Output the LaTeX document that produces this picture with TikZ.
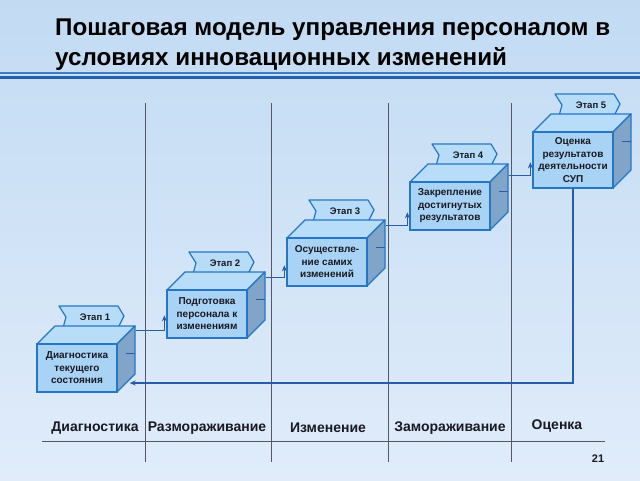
\documentclass[tikz,border=0pt]{standalone}
\usepackage{fontspec}
\setmainfont{Liberation Sans}
\usetikzlibrary{calc,arrows.meta}
\definecolor{bgtop}{RGB}{194,219,243}
\definecolor{bgbot}{RGB}{224,236,250}
\definecolor{edgec}{RGB}{38,118,200}
\definecolor{frontc}{RGB}{168,211,245}
\definecolor{topc}{RGB}{184,221,248}
\definecolor{sidec}{RGB}{128,165,200}
\definecolor{tagc}{RGB}{182,220,248}
\definecolor{connc}{RGB}{40,92,168}
\definecolor{divc}{RGB}{85,88,100}
\definecolor{rulethin}{RGB}{60,125,195}
\definecolor{rulethick}{RGB}{35,95,170}
\definecolor{txtc}{RGB}{25,25,35}
\tikzset{
  tagshape/.style={draw=edgec, line width=1.2pt, fill=tagc, line join=round},
  tagtext/.style={font=\fontsize{9.5}{10}\selectfont\bfseries, text=txtc, inner sep=0pt},
  cubetop/.style={draw=edgec, line width=1.3pt, fill=topc, line join=round},
  cubeside/.style={draw=edgec, line width=1.3pt, fill=sidec, line join=round},
  cubefront/.style={draw=edgec, line width=1.3pt, fill=frontc, minimum width=80pt, inner sep=0pt,
     align=center, font=\fontsize{10}{12.5}\selectfont\bfseries, text=txtc},
  tickline/.style={draw=connc, line width=1pt},
  conn/.style={draw=connc, line width=1.2pt, -{Stealth[length=6pt,width=5pt]}},
  divider/.style={draw=divc, line width=0.8pt},
  phase/.style={font=\fontsize{14}{16}\selectfont\bfseries, text=txtc, inner sep=0pt},
  titletext/.style={font=\fontsize{24.2}{28}\selectfont\bfseries, text=black, inner sep=0pt, anchor=base west}
}
\newcommand\mycube[6]{%
  \begin{scope}[shift={(#2,#3)}]
    \draw[tagshape] (22,-38) -- (81,-38) -- (87,-28) -- (81,-16) -- (26,-16) -- (29,-27) -- cycle;
    \node[tagtext] (#1t) at (58,-27) {#6};
    \draw[cubetop] (0,0) -- (18,-18) -- (98,-18) -- (80,0) -- cycle;
    \draw[cubeside] (80,0) -- (98,-18) -- (98,#4-18) -- (80,#4) -- cycle;
    \node[cubefront, minimum height=#4] (#1) at (40,#4/2) {#5};
    \draw[tickline] (89,9) -- (98,9);
  \end{scope}}
\begin{document}
\begin{tikzpicture}[x=1pt,y=-1pt]
  \useasboundingbox (0,0) rectangle (640,480);
  \shade[top color=bgtop, bottom color=bgbot] (0,0) rectangle (640,480);
  % title
  \node[titletext] (t1) at (55,35) {Пошаговая модель управления персоналом в};
  \node[titletext] (t2) at (55,65) {условиях инновационных изменений};
  \draw[rulethin, line width=1.2pt] (0,73) -- (640,73);
  \draw[rulethick, line width=3.5pt] (0,77.5) -- (640,77.5);
  % dividers
  \foreach \xx in {145,271,388,511} \draw[divider] (\xx,103) -- (\xx,462);
  \draw[divc, line width=1pt] (42,441) -- (605,441);
  % cubes
  \mycube{b1}{37}{344}{48}{Диагностика\\текущего\\состояния}{Этап 1}
  \mycube{b2}{167}{290}{48}{Подготовка\\персонала к\\изменениям}{Этап 2}
  \mycube{b3}{287}{238}{48}{Осуществле-\\ние самих\\изменений}{Этап 3}
  \mycube{b4}{410}{182}{48}{Закрепление\\достигнутых\\результатов}{Этап 4}
  \mycube{b5}{533}{132}{56}{Оценка\\результатов\\деятельности\\СУП}{Этап 5}
  % connectors
  \coordinate (c1) at ($(b1.north east)+(18,-13)$);
  \draw[conn] (c1) -- ($(c1 -| b2.west)+(-2,0)$) -- ++(0,-15);
  \coordinate (c2) at ($(b2.north east)+(18,-12)$);
  \draw[conn] (c2) -- ($(c2 -| b3.west)+(-2,0)$) -- ++(0,-12);
  \coordinate (c3) at ($(b3.north east)+(18,-12)$);
  \draw[conn] (c3) -- ($(c3 -| b4.west)+(-2,0)$) -- ++(0,-13);
  \coordinate (c4) at ($(b4.north east)+(18,-6)$);
  \draw[conn] (c4) -- ($(c4 -| b5.west)+(-2,0)$) -- ++(0,-13);
  \coordinate (fb) at ($(b1.east)+(12,15)$);
  \draw[conn] (b5.south) |- (fb);
  % phase labels
  \node[phase] (p1) at (95,428) {Диагностика};
  \node[phase] (p2) at (207,428) {Размораживание};
  \node[phase] (p3) at (328,428) {Изменение};
  \node[phase] (p4) at (450,428) {Замораживание};
  \node[phase] (p5) at (557,426) {Оценка};
  \node[font=\fontsize{11}{12}\selectfont\bfseries, text=txtc, inner sep=0pt] (pg) at (598,459) {21};
\end{tikzpicture}
\end{document}
